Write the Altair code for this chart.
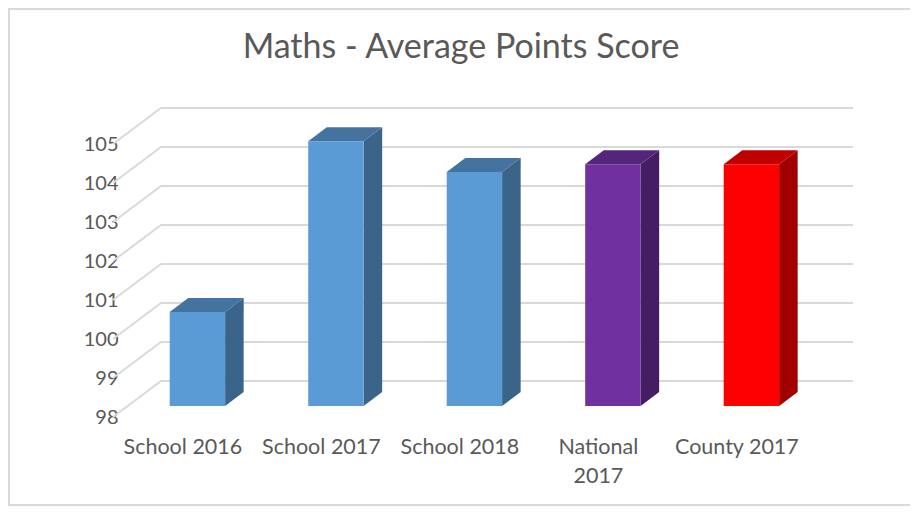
import json
import altair as alt
import pandas as pd

CATEGORIES = ["School 2016", "School 2017", "School 2018", "National 2017", "County 2017"]
LABEL_LINES = [["School 2016"], ["School 2017"], ["School 2018"], ["National", "2017"], ["County 2017"]]
VALUES = [100.41, 104.79, 104.0, 104.2, 104.2]
FRONT = ["#5B9BD5", "#5B9BD5", "#5B9BD5", "#7030A0", "#FF0000"]
SIDE = ["#3A6489", "#3A6489", "#3A6489", "#451D65", "#A00000"]
TOP = ["#44739F", "#44739F", "#44739F", "#542578", "#C00000"]
TICKS = [98, 99, 100, 101, 102, 103, 104, 105]
TITLE = "Maths - Average Points Score"

# Oblique projection of the 3D chart, in axis units
X_DOMAIN = [-0.6094, 4.7336]
Y_DOMAIN = [98, 106]
WALL_DX, WALL_DY = 0.3466, 0.923     # floor depth
BAR_W, BAR_DX, BAR_DY = 0.4, 0.134, 0.36   # bar width and depth
BAR_LIFT = 0.282                     # bars stand mid-way on the floor

FONT = "Lato"
INK = "#595959"

xs = alt.Scale(domain=X_DOMAIN, nice=False, zero=False)
ys = alt.Scale(domain=Y_DOMAIN, nice=False, zero=False)
AX = alt.Axis(
    values=list(range(len(CATEGORIES))),
    labelExpr=json.dumps(LABEL_LINES) + "[datum.value]",
    title=None, grid=False, domain=False, ticks=False,
    labelFont=FONT, labelFontSize=21.5, labelColor=INK,
    labelPadding=19, labelOffset=-15, labelLineHeight=29,
    labelFlush=False, labelOverlap=False, labelBound=False)
AY = alt.Axis(
    values=TICKS, title=None, grid=False, domain=False, ticks=False,
    labelFont=FONT, labelFontSize=20, labelColor=INK,
    labelPadding=-5, labelOverlap=False, labelBound=False)

grid_rows = []
for v in TICKS:
    for order, (x, y) in enumerate([(X_DOMAIN[0], v),
                                    (X_DOMAIN[0] + WALL_DX, v + WALL_DY),
                                    (X_DOMAIN[1], v + WALL_DY)]):
        grid_rows.append({"tick": v, "order": order, "x": x, "y": y})
grid_df = pd.DataFrame(grid_rows)

front_rows, side_rows, top_rows = [], [], []
for i, (name, v) in enumerate(zip(CATEGORIES, VALUES)):
    left, right = i - BAR_W / 2, i + BAR_W / 2
    base, top = 98 + BAR_LIFT, v + BAR_LIFT
    front_rows.append({"name": name, "x": left, "x2": right, "y": top, "y2": base, "c": FRONT[i]})
    side_rows.append({"name": name, "x": right, "y": top, "y2": base, "c": SIDE[i]})
    side_rows.append({"name": name, "x": right + BAR_DX, "y": top + BAR_DY, "y2": base + BAR_DY, "c": SIDE[i]})
    top_rows.append({"name": name, "y": top, "x": left, "x2": right, "c": TOP[i]})
    top_rows.append({"name": name, "y": top + BAR_DY, "x": left + BAR_DX, "x2": right + BAR_DX, "c": TOP[i]})
front_df, side_df, top_df = map(pd.DataFrame, (front_rows, side_rows, top_rows))

one = pd.DataFrame({"a": [0]})
frame = alt.Chart(one).mark_rect(
    fillOpacity=0, stroke="#D9D9D9", strokeWidth=2
).encode(x=alt.value(-104), x2=alt.value(815), y=alt.value(-96), y2=alt.value(400))

title = alt.Chart(one).mark_text(
    text=TITLE, font=FONT, fontSize=34, color=INK, align="center", baseline="middle"
).encode(x=alt.value(348), y=alt.value(-57))

grid = alt.Chart(grid_df).mark_line(color="#D9D9D9", strokeWidth=2).encode(
    x=alt.X("x:Q", scale=xs, axis=AX),
    y=alt.Y("y:Q", scale=ys, axis=AY),
    detail="tick:N",
    order="order:Q",
)

side = alt.Chart(side_df).mark_area(orient="vertical").encode(
    x=alt.X("x:Q", scale=xs, axis=AX),
    y=alt.Y("y:Q", scale=ys, axis=AY, stack=None),
    y2="y2:Q",
    color=alt.Color("c:N", scale=None),
    detail="name:N",
)

top = alt.Chart(top_df).mark_area(orient="horizontal").encode(
    y=alt.Y("y:Q", scale=ys, axis=AY),
    x=alt.X("x:Q", scale=xs, axis=AX, stack=None),
    x2="x2:Q",
    color=alt.Color("c:N", scale=None),
    detail="name:N",
)

front = alt.Chart(front_df).mark_rect().encode(
    x=alt.X("x:Q", scale=xs, axis=AX),
    x2="x2:Q",
    y=alt.Y("y:Q", scale=ys, axis=AY),
    y2="y2:Q",
    color=alt.Color("c:N", scale=None),
)

chart = alt.layer(frame, title, grid, side, top, front).properties(
    width=740,
    height=312,
    padding={"left": 105, "top": 97, "right": 57, "bottom": 89},
    autosize=alt.AutoSizeParams(type="none"),
    background="#FFFFFF",
).configure_view(stroke=None)

chart.save("out.html", embed_options={"renderer": "svg", "actions": False})
